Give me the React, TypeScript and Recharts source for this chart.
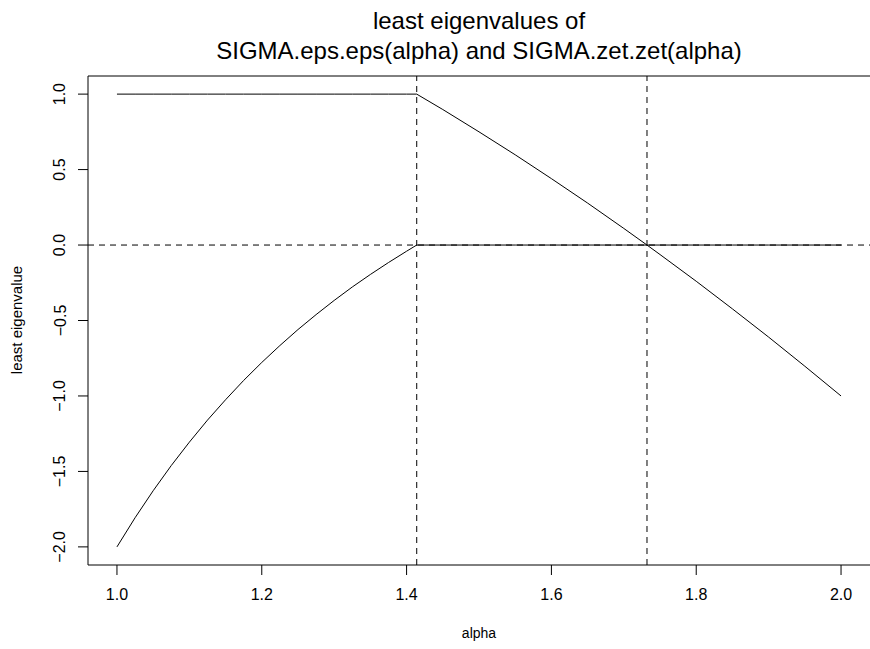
import React from "react";
import { LineChart, Line, XAxis, YAxis, ReferenceLine } from "recharts";

// values
const alphaValues = [
  1.0, 1.025, 1.05, 1.075, 1.1, 1.125, 1.15, 1.175, 1.2, 1.225, 1.25, 1.275,
  1.3, 1.325, 1.35, 1.375, 1.4, 1.414, 1.45, 1.5, 1.55, 1.6, 1.65, 1.7, 1.732,
  1.75, 1.8, 1.85, 1.9, 1.95, 2.0,
];
const epsEigen = [
  1, 1, 1, 1, 1, 1, 1, 1, 1, 1, 1, 1, 1, 1, 1, 1, 1, 1, 0.898, 0.75, 0.598,
  0.44, 0.278, 0.11, 0, -0.063, -0.24, -0.423, -0.61, -0.803, -1,
];
const zetEigen = [
  -2, -1.807, -1.628, -1.461, -1.306, -1.16, -1.025, -0.897, -0.778, -0.666,
  -0.56, -0.461, -0.367, -0.278, -0.195, -0.116, -0.041, 0, 0, 0, 0, 0, 0, 0,
  0, 0, 0, 0, 0, 0, 0,
];
const xTicks = [1.0, 1.2, 1.4, 1.6, 1.8, 2.0];
const yTicks = [-2.0, -1.5, -1.0, -0.5, 0.0, 0.5, 1.0];
const vLines = [1.414, 1.732];
const hLines = [0];

const data = alphaValues.map((a, i) => ({
  alpha: a,
  eps: epsEigen[i],
  zet: zetEigen[i],
}));

const FONT = "'Liberation Sans', Arial, Helvetica, sans-serif";

const fmt = (v: number) => {
  const s = Math.abs(v).toFixed(1);
  return v < 0 ? "\u2212" + s : s;
};

function YTick(props: any) {
  const { x, y, payload } = props;
  return (
    <text
      x={x}
      y={y}
      transform={`rotate(-90 ${x} ${y})`}
      textAnchor="middle"
      fontSize={16}
      fontFamily={FONT}
      fill="#000"
    >
      {fmt(payload.value)}
    </text>
  );
}

export default function App() {
  return (
    <div style={{ position: "relative", width: 870, height: 649 }}>
      <style>{"body{margin:0}"}</style>
      <LineChart
        width={870}
        height={649}
        data={data}
        margin={{ top: 76, right: 0, bottom: 0, left: 0 }}
      >
        <XAxis
          dataKey="alpha"
          type="number"
          domain={[0.96, 2.04]}
          ticks={xTicks}
          tickFormatter={fmt}
          allowDataOverflow
          height={84}
          stroke="#000"
          tickSize={10}
          tickMargin={14}
          tick={{ fill: "#000", fontSize: 16, fontFamily: FONT }}
        />
        <YAxis
          type="number"
          domain={[-2.12, 1.12]}
          ticks={yTicks}
          allowDataOverflow
          width={88}
          stroke="#000"
          tickSize={10}
          tickMargin={12.5}
          tick={<YTick />}
        />
        <ReferenceLine y={1.12} stroke="#000" strokeWidth={1} />
        {vLines.map((v) => (
          <ReferenceLine key={"v" + v} x={v} stroke="#000" strokeDasharray="6 5" />
        ))}
        {hLines.map((v) => (
          <ReferenceLine key={"h" + v} y={v} stroke="#000" strokeDasharray="6 5" />
        ))}
        <Line
          dataKey="eps"
          type="linear"
          stroke="#000"
          strokeWidth={1}
          dot={false}
          isAnimationActive={false}
        />
        <Line
          dataKey="zet"
          type="linear"
          stroke="#000"
          strokeWidth={1}
          dot={false}
          isAnimationActive={false}
        />
      </LineChart>
      <svg
        width={870}
        height={649}
        style={{ position: "absolute", left: 0, top: 0, pointerEvents: "none" }}
      >
        <g fontFamily={FONT} fill="#000" textAnchor="middle">
          <text x={479} y={29} fontSize={24}>
            least eigenvalues of
          </text>
          <text x={479} y={59} fontSize={24}>
            SIGMA.eps.eps(alpha) and SIGMA.zet.zet(alpha)
          </text>
          <text x={479} y={638} fontSize={14}>
            alpha
          </text>
          <text x={22} y={320} fontSize={15} transform="rotate(-90 22 320)">
            least eigenvalue
          </text>
        </g>
      </svg>
    </div>
  );
}
